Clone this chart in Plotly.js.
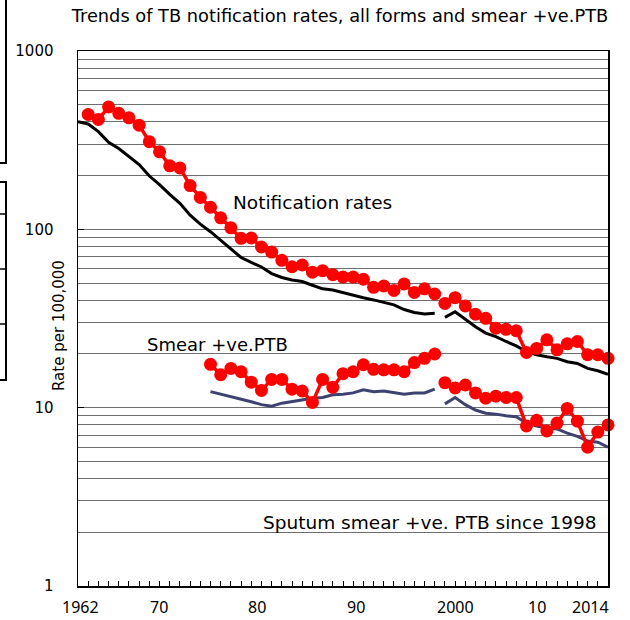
<!DOCTYPE html>
<html>
<head>
<meta charset="utf-8">
<script src="https://cdn.plot.ly/plotly-3.0.1.min.js"></script>
<style>html,body{margin:0;padding:0;background:#fff;}#chart{width:630px;height:620px;}</style>
</head>
<body>
<div id="chart"></div>
<script>
// ---------------- data ----------------
const years = [1962,1963,1964,1965,1966,1967,1968,1969,1970,1971,1972,1973,1974,1975,1976,1977,1978,1979,1980,1981,
  1982,1983,1984,1985,1986,1987,1988,1989,1990,1991,1992,1993,1994,1995,1996,1997,1998,1999,2000,2001,
  2002,2003,2004,2005,2006,2007,2008,2009,2010,2011,2012,2013,2014];

// black line: notification rate (line only)
const notifLine = [401,390,353,308,284,257,231,199,178,157,140,120,107,97,86.5,77,69.5,65.2,61.5,56.5,
  53.7,52.0,51.0,48.6,46.4,45.7,44.1,42.6,41.3,40.2,38.9,37.7,35.5,34.2,33.5,33.8,32.1,34.5,31.3,28.4,
  26.2,25.0,23.5,22.2,20.6,19.8,19.3,18.9,18.1,17.7,16.6,16.1,15.4];

// red dots: notification rates, all forms
const notifDots = [null,441,413,486,447,422,384,310,272,227,221,176,151,133,116,102,89,89.4,79.6,74.6,
  67,61.7,63.1,57.5,58.6,55.7,54.0,54.0,52.5,47.3,48.1,45.4,49.4,44.3,46.4,43.4,38.4,41.4,37.2,33.4,
  31.7,27.9,27.5,27.0,20.4,21.5,24.0,21.1,22.8,23.5,19.8,19.8,18.9];

// red dots: smear +ve PTB
const smearDots = [null,null,null,null,null,null,null,null,null,null,null,null,null,17.5,15.3,16.6,15.9,13.9,12.5,14.4,
  14.4,12.7,12.4,10.7,14.4,13.0,15.5,15.9,17.4,16.4,16.3,16.3,15.9,17.9,18.9,20.0,13.8,12.9,13.4,12.1,
  11.3,11.6,11.4,11.4,7.9,8.5,7.4,8.2,9.9,8.4,6.0,7.3,8.0];

// dark blue line: smear +ve PTB
const smearLine = [null,null,null,null,null,null,null,null,null,null,null,null,null,12.3,11.9,11.6,11.2,10.8,10.4,10.2,
  10.6,10.8,11.0,11.3,11.4,11.8,11.9,12.1,12.6,12.3,12.4,12.2,11.9,12.1,12.1,12.7,10.5,11.4,10.4,9.7,
  9.3,9.2,9.0,8.9,8.2,7.9,7.7,7.6,7.2,6.9,6.5,6.4,6.0];

const breakYear = 1998; // series definition changes (gap before this year)

const xLabels = ['1962','70','80','90','2000','10','2014'];
const yTickVals = [1,10,100,1000];
const yTickText = ['1','10','100','1000'];

const titleText = 'Trends of TB notification rates, all forms and smear +ve.PTB';
const yTitle = 'Rate per 100,000';
const noteNotif = 'Notification rates';
const noteSmear = 'Smear +ve.PTB';
const noteSince = 'Sputum smear +ve. PTB since 1998';

// ---------------- layout helpers ----------------
const W = 630, H = 620;
const M = {l:78, r:22, t:51, b:34};
const PW = W - M.l - M.r, PH = H - M.t - M.b;
const px2x = px => (px - M.l) / PW;
const py2y = py => (H - M.b - py) / PH;
// positions of the hand-placed x labels in the reference (pixels)
const xLabelPx = [80,159,257,356,455,537,590];

function segs(vals){
  const a = {x:[],y:[]}, b = {x:[],y:[]};
  years.forEach((yr,i)=>{ if(vals[i]==null) return; const s = yr < breakYear ? a : b; s.x.push(yr); s.y.push(vals[i]); });
  return [a,b];
}

const traces = [];
function addLine(vals, color, width){
  segs(vals).forEach(s => traces.push({x:s.x, y:s.y, type:'scatter', mode:'lines',
    line:{color:color, width:width}, cliponaxis:false, hoverinfo:'skip'}));
}
function addDots(vals){
  segs(vals).forEach(s => traces.push({x:s.x, y:s.y, type:'scatter', mode:'lines+markers',
    line:{color:'#ff0000', width:3.5}, marker:{color:'#ff0000', size:13}, cliponaxis:false, hoverinfo:'skip'}));
}
addLine(notifLine, '#000000', 3);
addDots(notifDots);
addLine(smearLine, '#3d4271', 3);
addDots(smearDots);

const minorVals = [];
[1,10,100].forEach(d => { for(let k=2;k<=9;k++) minorVals.push(k*d); });

const txt = (s) => ({family:'DejaVu Sans, Verdana, sans-serif', size:s, color:'#000'});

const annotations = [
  {text:noteNotif, xref:'paper', yref:'paper', x:px2x(312), y:py2y(202), xanchor:'center', yanchor:'middle', showarrow:false, font:txt(18.5)},
  {text:noteSmear, xref:'paper', yref:'paper', x:px2x(217), y:py2y(345), xanchor:'center', yanchor:'middle', showarrow:false, font:txt(18)},
  {text:noteSince, xref:'paper', yref:'paper', x:px2x(430), y:py2y(522), xanchor:'center', yanchor:'middle', showarrow:false, font:txt(18.5)},
  {text:yTitle, xref:'paper', yref:'paper', x:px2x(59), y:py2y(326), xanchor:'center', yanchor:'middle', textangle:-90, showarrow:false, font:txt(15)}
];
xLabels.forEach((t,i)=>annotations.push({text:t, xref:'paper', yref:'paper', x:px2x(xLabelPx[i]), y:py2y(607),
  xanchor:'center', yanchor:'middle', showarrow:false, font:{family:'Noto Sans, sans-serif', size:16, color:'#000'}}));

// cropped neighbouring boxes at the left edge of the reference picture
const box = (y0,y1) => ({type:'rect', xref:'paper', yref:'paper', x0:px2x(-6), x1:px2x(6), y0:py2y(y1), y1:py2y(y0),
  line:{color:'#000', width:2}, fillcolor:'rgba(0,0,0,0)'});
const hline = (py) => ({type:'line', xref:'paper', yref:'paper', x0:px2x(0), x1:px2x(6), y0:py2y(py), y1:py2y(py), line:{color:'#000', width:1.5}});
const shapes = [box(-10,163), box(182,380), hline(214), hline(269), hline(324)];

const layout = {
  width:W, height:H, margin:M, paper_bgcolor:'#fff', plot_bgcolor:'#fff', showlegend:false,
  title:{text:titleText, font:txt(17.8), x:340/W, xref:'container', xanchor:'center', y:1-16/H, yanchor:'middle'},
  xaxis:{range:[1962,2014], tickmode:'linear', tick0:1962, dtick:1, ticks:'inside', ticklen:5, tickcolor:'#000', tickwidth:1,
    showticklabels:false, showgrid:false, zeroline:false, showline:true, linecolor:'#000', linewidth:1.5, mirror:true, fixedrange:true},
  yaxis:{type:'log', range:[0,3], tickmode:'array', tickvals:yTickVals, ticktext:yTickText, ticks:'inside', ticklen:6, tickcolor:'#000',
    tickfont:txt(15), ticklabelstandoff:20, showgrid:true, gridcolor:'#6e6e6e', gridwidth:1, zeroline:false,
    showline:true, linecolor:'#000', linewidth:1.5, mirror:true, fixedrange:true,
    minor:{tickmode:'array', tickvals:minorVals, ticks:'', showgrid:true, gridcolor:'#6e6e6e', gridwidth:1}},
  annotations:annotations, shapes:shapes
};

Plotly.newPlot('chart', traces, layout, {displayModeBar:false, staticPlot:true});
</script>
</body>
</html>
